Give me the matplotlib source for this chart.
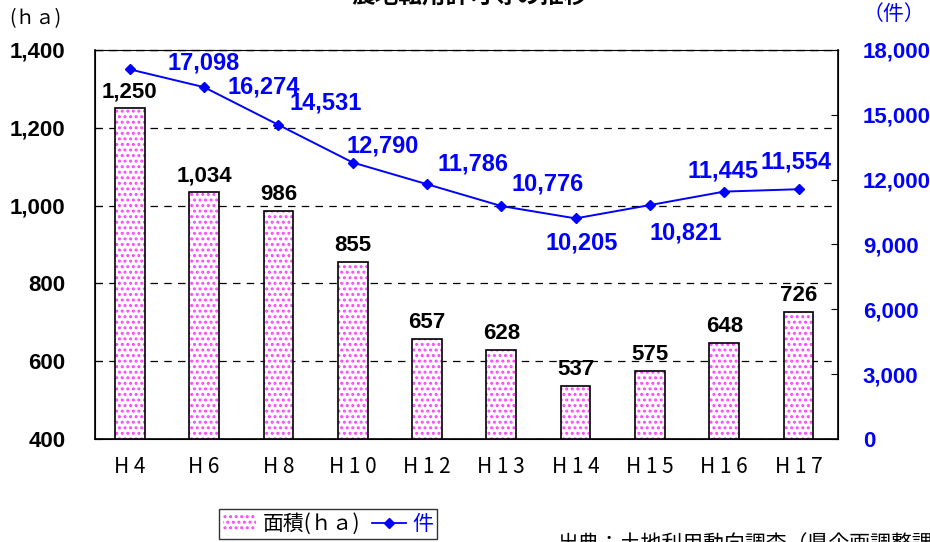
import numpy as np
import matplotlib
matplotlib.use("Agg")
import matplotlib.pyplot as plt
from matplotlib.patches import Patch
from matplotlib.lines import Line2D

plt.rcParams['font.family'] = ['Liberation Sans', 'Noto Sans CJK JP', 'DejaVu Sans']
plt.rcParams['hatch.linewidth'] = 1.4

years = ['H 4', 'H 6', 'H 8', 'H 1 0', 'H 1 2', 'H 1 3', 'H 1 4', 'H 1 5', 'H 1 6', 'H 1 7']
area = [1250, 1034, 986, 855, 657, 628, 537, 575, 648, 726]
cases = [17098, 16274, 14531, 12790, 11786, 10776, 10205, 10821, 11445, 11554]
# pixel offsets for the count labels
offs = [(74, 6), (60, 0), (47, 22), (30, 17), (46, 20), (46, 22), (6, -25), (36, -28), (-1, 21), (-3, 27)]

pink = '#ff44ff'
fig = plt.figure(figsize=(9.3, 5.42), dpi=100)
ax = fig.add_axes([0.102, 0.190, 0.799, 0.718])
x = np.arange(len(years))

ax.bar(x, area, width=0.4, color='white', hatch='...', edgecolor=pink, lw=0, zorder=2)
ax.bar(x, area, width=0.4, color='none', edgecolor='black', lw=1.2, zorder=3)
for xi, v in zip(x, area):
    ax.annotate(f'{v:,}', (xi, v), xytext=(0, 6), textcoords='offset pixels',
                ha='center', va='bottom', fontsize=16, weight='bold', color='black', zorder=5)

ax.set_ylim(400, 1400)
ax.set_xlim(-0.47, 9.53)
ax.set_yticks(range(400, 1401, 200))
ax.set_yticklabels([f'{v:,}' for v in range(400, 1401, 200)], fontsize=16, weight='bold')
ax.set_xticks(x)
ax.set_xticklabels(years, fontsize=15, family=['Noto Sans CJK JP'])
ax.tick_params(axis='y', direction='in', length=5, pad=21)
ax.tick_params(axis='x', length=0, pad=12)
ax.grid(axis='y', color='black', ls=(0, (6, 5)), lw=0.9, zorder=1)
ax.spines['top'].set_linestyle((0, (6, 5)))
ax.spines['top'].set_linewidth(0.9)
for s in ['left', 'right', 'bottom']:
    ax.spines[s].set_linewidth(1.2)

ax2 = ax.twinx()
ax2.plot(x, cases, color='#0000ff', lw=1.4, marker='D', ms=5, zorder=4)
for xi, v, o in zip(x, cases, offs):
    ax2.annotate(f'{v:,}', (xi, v), xytext=o, textcoords='offset pixels',
                 ha='center', va='center', fontsize=17, weight='bold', color='#0000ff')
ax2.set_ylim(0, 18000)
ax2.set_yticks(range(0, 18001, 3000))
ax2.set_yticklabels([f'{v:,}' for v in range(0, 18001, 3000)], fontsize=16, weight='bold')
ax2.tick_params(axis='y', direction='in', length=5, pad=18, colors='black', labelcolor='#0000ff')

fig.text(0.010, 0.965, '(ｈａ)', fontsize=14, family=['Noto Sans CJK JP'], ha='left', va='center')
fig.text(0.995, 0.975, '（件）', fontsize=15, family=['Noto Sans CJK JP'], color='#0000ff', ha='right', va='center')
fig.text(0.505, 1.008, '農地転用許可等の推移', fontsize=17, weight='bold',
         family=['Noto Sans CJK JP'], ha='center', va='center')
fig.text(0.6, -0.004, '出典：土地利用動向調査（県企画調整課）', fontsize=15,
         family=['Noto Sans CJK JP'], ha='left', va='center')

handles = [Patch(facecolor='white', hatch='...', edgecolor=pink, lw=0),
           Line2D([], [], color='#0000ff', marker='D', ms=5, lw=1.3)]
leg = fig.legend(handles, ['面積(ｈａ)', '件'], loc='lower left', bbox_to_anchor=(0.224, -0.014),
                 ncol=2, frameon=True, fancybox=False, edgecolor='black',
                 prop={'family': ['Noto Sans CJK JP'], 'size': 15},
                 handlelength=1.6, handletextpad=0.3, columnspacing=0.6, borderpad=0.2)
leg.get_frame().set_linewidth(1.0)
leg.get_texts()[1].set_color('#0000ff')

fig.savefig('out.png', dpi=100)
